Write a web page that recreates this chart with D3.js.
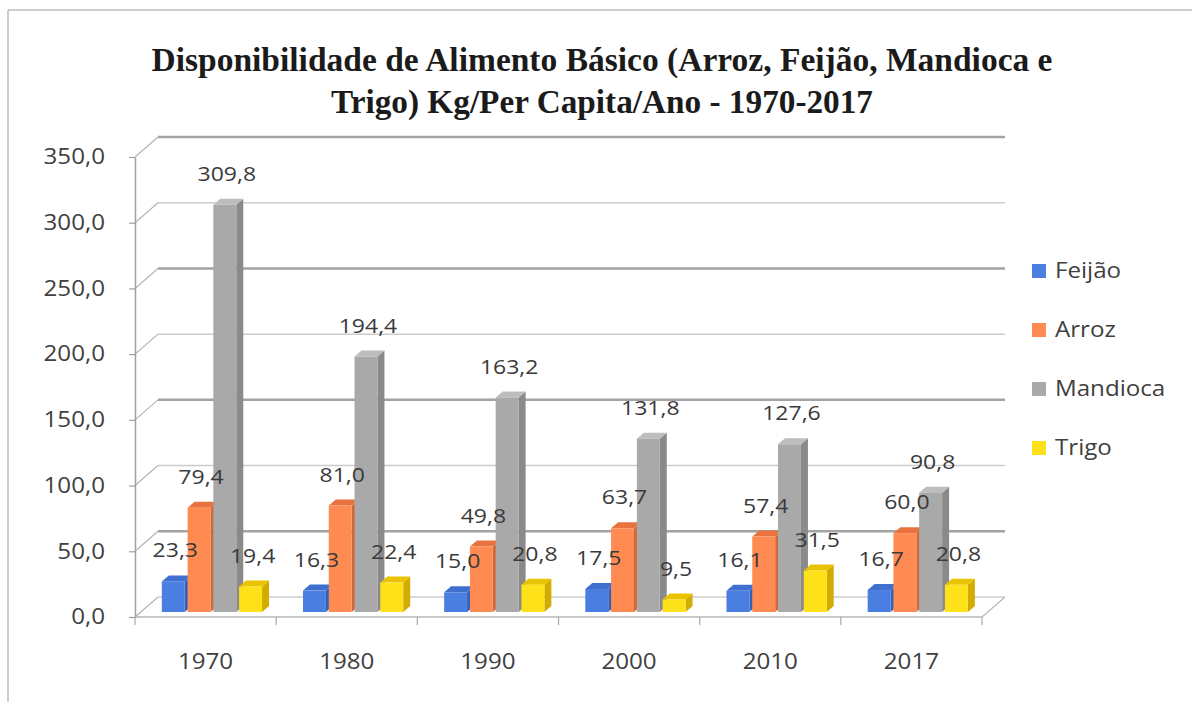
<!DOCTYPE html>
<html>
<head>
<meta charset="utf-8">
<script src="https://cdn.jsdelivr.net/npm/d3@7"></script>
<style>
  html, body { margin: 0; padding: 0; background: #fff; }
  svg { display: block; }
</style>
</head>
<body>
<svg id="chart" width="1192" height="702"></svg>
<script>
// ---------- data ----------
const categories = ["1970", "1980", "1990", "2000", "2010", "2017"];
const seriesNames = ["Feijão", "Arroz", "Mandioca", "Trigo"];
const feijao   = [23.3, 16.3, 15.0, 17.5, 16.1, 16.7];
const arroz    = [79.4, 81.0, 49.8, 63.7, 57.4, 60.0];
const mandioca = [309.8, 194.4, 163.2, 131.8, 127.6, 90.8];
const trigo    = [19.4, 22.4, 20.8, 9.5, 31.5, 20.8];
const yTicks   = [0, 50, 100, 150, 200, 250, 300, 350];
const titleLines = [
  "Disponibilidade de Alimento Básico (Arroz, Feijão, Mandioca e",
  "Trigo) Kg/Per Capita/Ano - 1970-2017"
];

const seriesValues = [feijao, arroz, mandioca, trigo];

// ---------- styles ----------
const palette = {
  "Feijão":   { front: "#4a7ee0", side: "#3361b8", top: "#3f6fcf" },
  "Arroz":    { front: "#ff8a52", side: "#d0683a", top: "#e8733f" },
  "Mandioca": { front: "#a9a9a9", side: "#8a8a8a", top: "#bdbdbd" },
  "Trigo":    { front: "#ffe11a", side: "#d2ad00", top: "#eac300" }
};
const SX = 1.15; // horizontal stretch of the sans text
const sansFont = "'Open Sans', 'Liberation Sans', sans-serif";
const textColor = "#404040";

const svg = d3.select("#chart");

// ---------- scales ----------
const x0 = d3.scaleBand().domain(categories).range([135, 982]).padding(0);
const bw = x0.bandwidth();
const x1 = d3.scaleBand().domain(seriesNames).range([0.19 * bw, 0.92 * bw]).padding(0);
const y = d3.scaleLinear().domain([0, 350]).range([617, 157]);
const DX = 23, DY = -20;        // depth of the floor / walls
const BDX = 7, BDY = -6;        // depth of each bar
const barLift = 5;              // bars sit slightly behind the front edge
const frontW = x1.bandwidth() * 0.89;
const fmt = v => d3.format(".1f")(v).replace(".", ",");

function stext(g, x, yy, str, opt) {
  return g.append("text")
    .attr("transform", `translate(${x},${yy}) scale(${opt.sx || SX},1)`)
    .attr("text-anchor", opt.anchor || "middle")
    .attr("font-family", opt.font || sansFont)
    .attr("font-size", opt.size || 20)
    .attr("font-weight", opt.weight || "normal")
    .attr("fill", opt.fill || textColor)
    .text(str);
}

// ---------- outer border ----------
svg.append("line").attr("x1", 8).attr("y1", 10).attr("x2", 1192).attr("y2", 10)
  .attr("stroke", "#bdbdbd").attr("stroke-width", 1.5);
svg.append("line").attr("x1", 8).attr("y1", 10).attr("x2", 8).attr("y2", 702)
  .attr("stroke", "#bdbdbd").attr("stroke-width", 1.5);

// ---------- title ----------
const titleG = svg.append("g");
[[71, 901], [113, 542]].forEach(([by, len], i) => {
  titleG.append("text")
    .attr("x", 602).attr("y", by)
    .attr("text-anchor", "middle")
    .attr("font-family", "'Liberation Serif', 'Times New Roman', serif")
    .attr("font-weight", "bold")
    .attr("font-size", 33)
    .attr("fill", "#1b1b1b")
    .attr("textLength", len)
    .attr("lengthAdjust", "spacingAndGlyphs")
    .text(titleLines[i]);
});

// ---------- back wall gridlines ----------
const gridG = svg.append("g");
yTicks.forEach(v => {
  const dark = (v / 50) % 2 === 1;
  const col = dark ? "#a3a3a3" : "#cccccc";
  const sw = dark ? 2.5 : 1.5;
  gridG.append("line")
    .attr("x1", x0.range()[0] + DX).attr("x2", x0.range()[1] + DX)
    .attr("y1", y(v) + DY).attr("y2", y(v) + DY)
    .attr("stroke", col).attr("stroke-width", sw);
  gridG.append("line")
    .attr("x1", x0.range()[0]).attr("y1", y(v))
    .attr("x2", x0.range()[0] + DX).attr("y2", y(v) + DY)
    .attr("stroke", "#b5b5b5").attr("stroke-width", 1.2);
});

// floor front edge and right diagonal
const floorG = svg.append("g");
floorG.append("line")
  .attr("x1", x0.range()[0]).attr("x2", x0.range()[1])
  .attr("y1", y(0)).attr("y2", y(0))
  .attr("stroke", "#b8b8b8").attr("stroke-width", 1.5);
floorG.append("line")
  .attr("x1", x0.range()[1]).attr("y1", y(0))
  .attr("x2", x0.range()[1] + DX).attr("y2", y(0) + DY)
  .attr("stroke", "#b8b8b8").attr("stroke-width", 1.2);
// category boundary ticks
categories.concat(["__end"]).forEach((c, i) => {
  const xx = i < categories.length ? x0(c) : x0.range()[1];
  floorG.append("line")
    .attr("x1", xx).attr("x2", xx)
    .attr("y1", y(0)).attr("y2", y(0) + 8)
    .attr("stroke", "#a8a8a8").attr("stroke-width", 1.2);
});

// ---------- y axis ----------
const yAxisG = svg.append("g")
  .attr("transform", `translate(${x0.range()[0]},0)`)
  .call(d3.axisLeft(y).tickValues(yTicks).tickSize(6).tickSizeOuter(0).tickFormat(fmt));
yAxisG.select(".domain").attr("stroke", "#a0a0a0").attr("stroke-width", 1.5);
yAxisG.selectAll(".tick line").attr("stroke", "#a0a0a0").attr("stroke-width", 1.2);
yAxisG.selectAll(".tick text")
  .attr("x", null)
  .attr("transform", `translate(-30,0) scale(${SX},1)`)
  .attr("font-family", sansFont)
  .attr("font-size", 21)
  .attr("fill", textColor);

// ---------- x axis labels ----------
const xAxisG = svg.append("g")
  .attr("transform", `translate(0,${y(0)})`)
  .call(d3.axisBottom(x0).tickSize(0).tickPadding(0));
xAxisG.select(".domain").remove();
xAxisG.selectAll(".tick text")
  .attr("y", null).attr("dy", null)
  .attr("transform", `translate(0,52) scale(${SX},1)`)
  .attr("font-family", sansFont)
  .attr("font-size", 21)
  .attr("fill", textColor);

// ---------- bars ----------
const barsG = svg.append("g");
const bottom = y(0) - barLift;
categories.forEach((c, ci) => {
  seriesNames.forEach((s, si) => {
    const v = seriesValues[si][ci];
    const bx = x0(c) + x1(s);
    const top = y(v) - barLift;
    const col = palette[s];
    const g = barsG.append("g");
    // side
    g.append("polygon")
      .attr("points", [[bx + frontW, bottom], [bx + frontW + BDX, bottom + BDY],
                       [bx + frontW + BDX, top + BDY], [bx + frontW, top]].map(p => p.join(",")).join(" "))
      .attr("fill", col.side);
    // top
    g.append("polygon")
      .attr("points", [[bx, top], [bx + BDX, top + BDY],
                       [bx + frontW + BDX, top + BDY], [bx + frontW, top]].map(p => p.join(",")).join(" "))
      .attr("fill", col.top);
    // front
    g.append("rect")
      .attr("x", bx).attr("y", top)
      .attr("width", frontW).attr("height", bottom - top)
      .attr("fill", col.front);
  });
});

// ---------- data labels ----------
const labelsG = svg.append("g");
categories.forEach((c, ci) => {
  seriesNames.forEach((s, si) => {
    const v = seriesValues[si][ci];
    const cx = x0(c) + x1(s) + frontW / 2 + 2;
    const top = y(v) - barLift;
    stext(labelsG, cx, top - 24, fmt(v), { size: 20, fill: "#3a3a3a" });
  });
});

// ---------- legend ----------
const legendG = svg.append("g");
const legendY = d3.scalePoint().domain(seriesNames).range([271, 448]);
seriesNames.forEach(s => {
  const ly = legendY(s);
  legendG.append("rect")
    .attr("x", 1032).attr("y", ly - 7)
    .attr("width", 14).attr("height", 14)
    .attr("fill", palette[s].front);
  stext(legendG, 1055, ly + 7, s, { size: 21, anchor: "start", fill: textColor });
});
</script>
</body>
</html>
